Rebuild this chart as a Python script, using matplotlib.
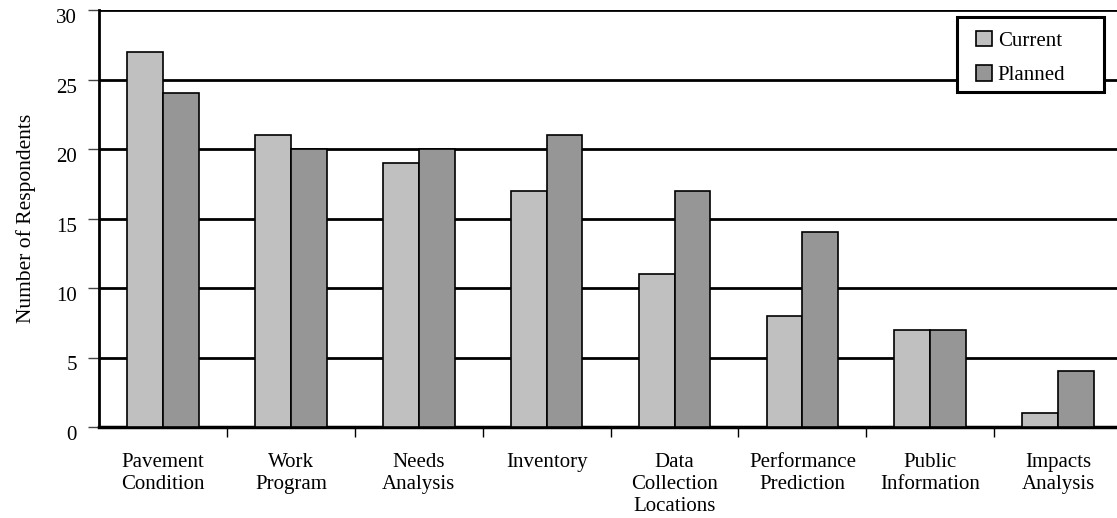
import numpy as np
import matplotlib.pyplot as plt
import matplotlib.transforms as mtransforms
from matplotlib.patches import Rectangle

categories = ["Pavement\nCondition", "Work\nProgram", "Needs\nAnalysis", "Inventory",
              "Data\nCollection\nLocations", "Performance\nPrediction", "Public\nInformation",
              "Impacts\nAnalysis"]
current = [27, 21, 19, 17, 11, 8, 7, 1]
planned = [24, 20, 20, 21, 17, 14, 7, 4]

plt.rcParams['font.family'] = ['Liberation Serif', 'DejaVu Serif']

W, H = 1117, 518
fig = plt.figure(figsize=(W / 100, H / 100), dpi=100)
ax = fig.add_axes([99 / W, 91 / H, 1 - 99 / W, 417 / H])

x = np.arange(len(categories))
w = 0.28
ax.bar(x - w / 2, current, w, color='#c0c0c0', edgecolor='black', linewidth=1.2,
       label='Current', zorder=3)
ax.bar(x + w / 2, planned, w, color='#969696', edgecolor='black', linewidth=1.2,
       label='Planned', zorder=3)

ax.set_ylim(0, 30)
ax.set_xlim(-0.5, 7.46)
ax.set_yticks(range(0, 31, 5))
for y in range(5, 31, 5):
    ax.axhline(y, color='black', linewidth=2, zorder=1)

# category labels centred, ticks at the boundaries
ax.set_xticks(x)
ax.set_xticklabels(categories, fontsize=15, linespacing=1.2)
ax.tick_params(axis='x', length=0, pad=19)
ax.set_xticks(np.arange(0.5, 7.5, 1), minor=True)
ax.tick_params(axis='x', which='minor', length=7, width=1, direction='out')
ax.tick_params(axis='y', length=8, width=1, color='#444444', direction='out',
               labelsize=15, pad=8)

# y labels sit a little below their ticks
shift = mtransforms.ScaledTranslation(0, -6 / 100, fig.dpi_scale_trans)
for lab in ax.get_yticklabels():
    lab.set_transform(lab.get_transform() + shift)

for side in ['top', 'right']:
    ax.spines[side].set_visible(False)
ax.spines['left'].set_linewidth(2)
ax.spines['bottom'].set_linewidth(2.5)

ax.set_ylabel('Number of Respondents', fontsize=15.5, labelpad=14)

# legend with a wider white box behind it
box = Rectangle((957 / W, 1 - 92 / H), 147 / W, 75 / H, transform=fig.transFigure,
                facecolor='white', edgecolor='black', linewidth=2.2, zorder=4)
fig.add_artist(box)
leg = ax.legend(loc='upper left', bbox_to_anchor=(976 / W, 1 - 31 / H),
                bbox_transform=fig.transFigure, fontsize=15, frameon=False,
                handlelength=0.75, handleheight=0.75, handletextpad=0.3,
                labelspacing=0.7, borderpad=0, borderaxespad=0)
leg.set_zorder(5)
fig.add_artist(leg)

fig.savefig('out.png', dpi=100)
